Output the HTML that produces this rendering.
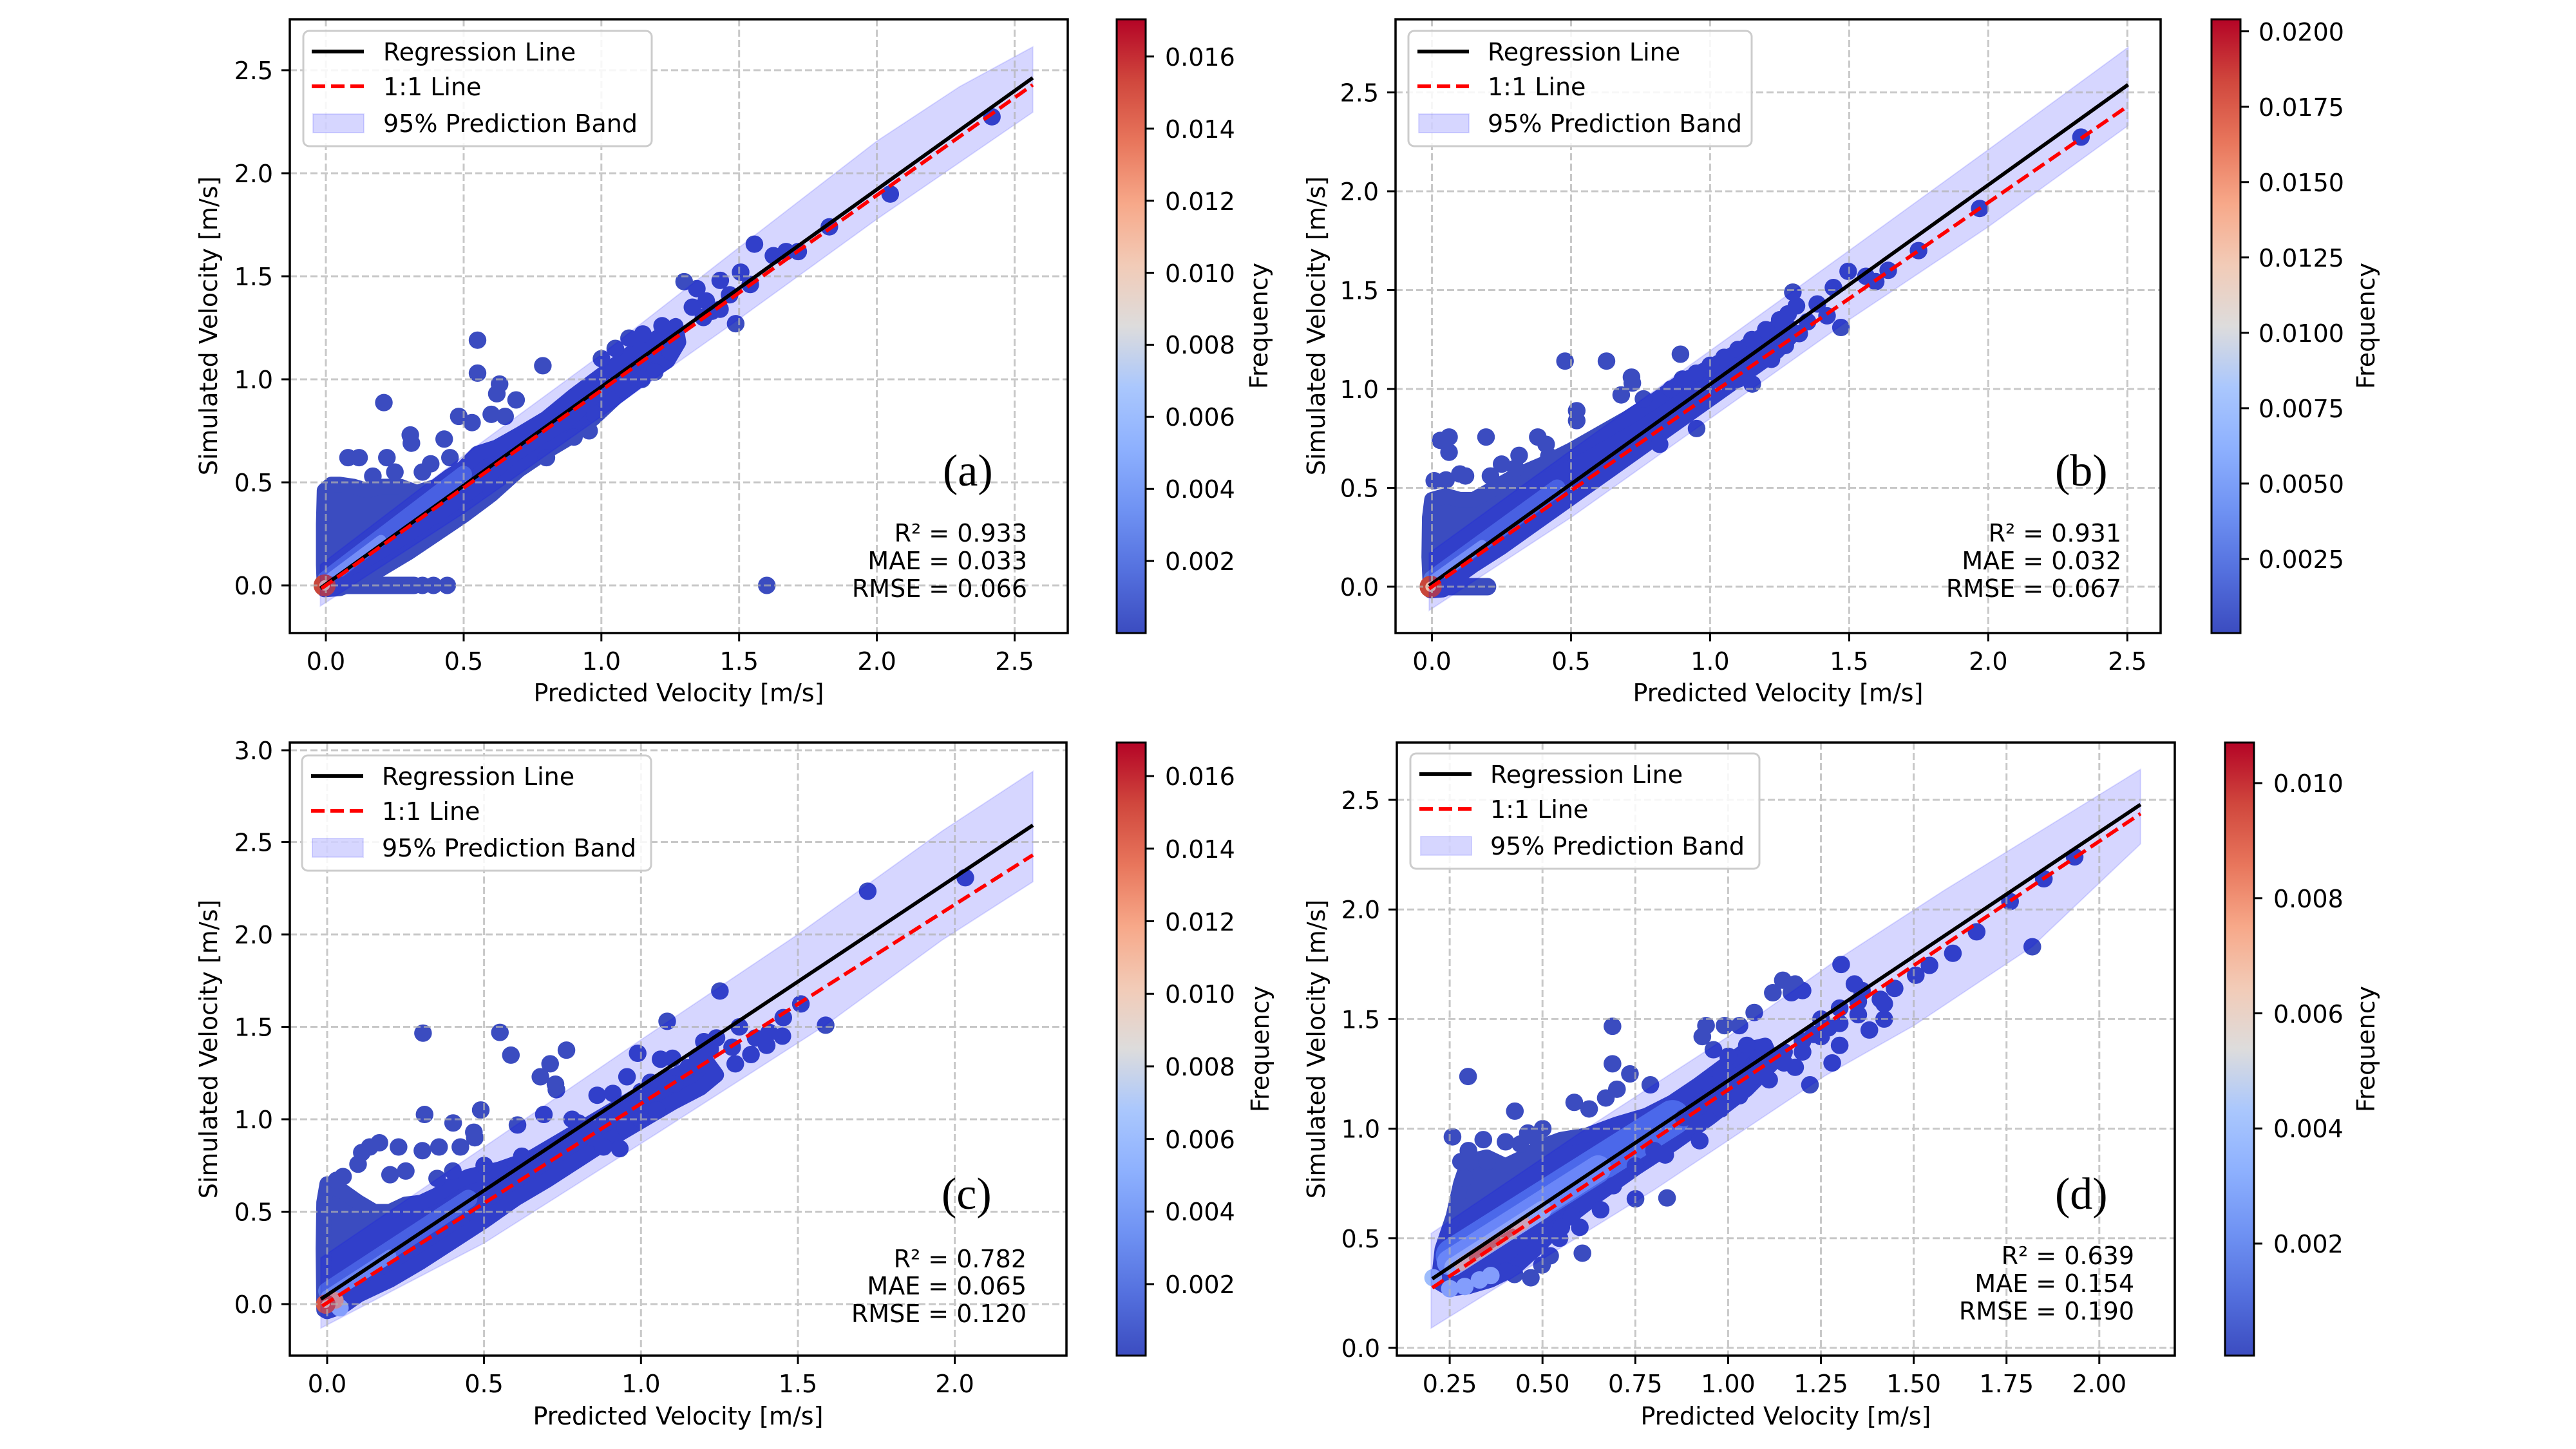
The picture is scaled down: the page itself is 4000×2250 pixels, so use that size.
<!DOCTYPE html>
<html><head><meta charset="utf-8">
<style>
html,body{margin:0;padding:0;background:#fff;}
svg{display:block;}
text{font-family:"DejaVu Sans","Liberation Sans",sans-serif;font-size:38px;fill:#000;}
.lab{font-family:"Liberation Serif",serif;font-size:70px;}
.grid{fill:none;stroke:#b0b0b0;stroke-opacity:.7;stroke-width:3;stroke-dasharray:11 5;}
.frame{fill:none;stroke:#000;stroke-width:3.5;}
.tk{stroke:#000;stroke-width:3;}
.reg{stroke:#000;stroke-width:5.7;fill:none;}
.one{stroke:#ff0000;stroke-width:5.7;stroke-dasharray:21 9;fill:none;}
.leg{fill:#fff;fill-opacity:.85;stroke:#cccccc;stroke-width:3;}
</style></head><body>
<svg width="4000" height="2250" viewBox="0 0 4000 2250" xmlns="http://www.w3.org/2000/svg">
<defs>
<linearGradient id="cw" x1="0" y1="1" x2="0" y2="0">
<stop offset="0" stop-color="#3b4cc0"/><stop offset=".1" stop-color="#5470de"/><stop offset=".2" stop-color="#6f92f3"/><stop offset=".3" stop-color="#8db0fe"/><stop offset=".4" stop-color="#aac7fd"/><stop offset=".5" stop-color="#dddcdc"/><stop offset=".6" stop-color="#f2cbb7"/><stop offset=".7" stop-color="#f7a889"/><stop offset=".8" stop-color="#e8765c"/><stop offset=".9" stop-color="#d0473d"/><stop offset="1" stop-color="#b40426"/>
</linearGradient>
<clipPath id="ca"><rect x="450" y="30" width="1208" height="953"/></clipPath>
<clipPath id="cb"><rect x="2167" y="30" width="1188" height="953"/></clipPath>
<clipPath id="cc"><rect x="450" y="1153" width="1206" height="952"/></clipPath>
<clipPath id="cd"><rect x="2169" y="1153" width="1208" height="952"/></clipPath>
</defs>
<rect width="4000" height="2250" fill="#fff"/>

<!-- ================= PANEL A ================= -->
<g clip-path="url(#ca)">
<g transform="matrix(427.8 0 0 -320 506 909)">
<path vector-effect="non-scaling-stroke" fill="#3b4cc0" stroke="#3b4cc0" stroke-width="24" stroke-linejoin="round" d="M-.005 -.02L-.008 .1L-.008 .3L-.005 .46L.02 .49L.05 .49L.1 .48L.15 .46L.2 .48L.27 .48L.33 .45L.4 .48L.45 .53L.5 .57L.55 .64L.62 .67L.7 .73L.8 .81L.9 .92L1 1.02L1.1 1.12L1.2 1.2L1.27 1.26L1.28 1.18L1.24 1.09L1.15 1.01L1.05 .91L.97 .81L.9 .73L.8 .65L.7 .56L.6 .44L.5 .34L.4 .25L.3 .16L.2 .08L.15 .04L.1 .01L.05 -.015Z"/>
<path vector-effect="non-scaling-stroke" fill="none" stroke="#5a78e0" stroke-opacity=".9" stroke-width="26" stroke-linecap="round" d="M0 .03L.5 .54"/>
<path vector-effect="non-scaling-stroke" fill="none" stroke="#8aa9f6" stroke-width="16" stroke-linecap="round" d="M0 .02L.2 .22"/>
<path vector-effect="non-scaling-stroke" fill="none" stroke="#3b4cc0" stroke-width="27" stroke-linecap="round" d="M0 0L.32 0M.55 1.19h.001M.55 1.03h.001M.787 1.066h.001M.63 .977h.001M.62 .93h.001M.69 .9h.001M.21 .887h.001M.08 .62h.001M.12 .62h.001M.221 .62h.001M.306 .73h.001M.31 .69h.001M.482 .82h.001M.429 .71h.001M.6 .83h.001M.65 .82h.001M.53 .79h.001M.38 .59h.001M.955 .75h.001M.976 .83h.001M.6 .46h.001M.45 .62h.001M.35 .55h.001M.25 .55h.001M.17 .53h.001M1.3 1.474h.001M1.346 1.44h.001M1.555 1.656h.001M1.431 1.48h.001M1.505 1.52h.001M1.54 1.46h.001M1.465 1.41h.001M1.487 1.27h.001M1.4 1.33h.001M1.37 1.3h.001M1.43 1.34h.001M1.25 1.134h.001M1.193 1.035h.001M1.147 1h.001M1.22 1.26h.001M1.1 1.2h.001M1.05 1.15h.001M1 1.1h.001M1.15 1.22h.001M1.33 1.35h.001M1.38 1.38h.001M1.624 1.6h.001M1.67 1.62h.001M1.714 1.62h.001M1.827 1.74h.001M2.048 1.899h.001M2.417 2.274h.001M1.6 0h.001M.35 0h.001M.39 0h.001M.44 0h.001M1.08 .95h.001M.9 .72h.001M.8 .62h.001"/>
<path vector-effect="non-scaling-stroke" fill="none" stroke="#c8463a" stroke-width="34" stroke-linecap="round" d="M-.005 0h.001"/>
<path vector-effect="non-scaling-stroke" fill="none" stroke="#f3c1a9" stroke-width="16" stroke-linecap="round" d="M-.005 0h.001"/>
<path vector-effect="non-scaling-stroke" fill="#0000ff" fill-opacity=".16" stroke="#0000ff" stroke-opacity=".12" stroke-width="2" d="M-.02 .1L.5 .63L1 1.12L1.5 1.64L2 2.156L2.3 2.42L2.566 2.613L2.566 2.296L2 1.777L1.5 1.293L1 .82L.5 .35L-.02 -.1Z"/>
</g>
<path class="grid" d="M506 30V983M720 30V983M933.8 30V983M1147.7 30V983M1361.6 30V983M1575.5 30V983M450 909H1658M450 749H1658M450 589H1658M450 429H1658M450 269H1658M450 109H1658"/>
<path class="reg" d="M497.4 913.5L1603.7 120.8"/>
<path class="one" d="M499.2 913.8L1603.7 131.7"/>
</g>
<rect class="frame" x="450" y="30" width="1208" height="953"/>
<path class="tk" d="M506 983v13M720 983v13M933.8 983v13M1147.7 983v13M1361.6 983v13M1575.5 983v13M450 909h-13M450 749h-13M450 589h-13M450 429h-13M450 269h-13M450 109h-13"/>
<g text-anchor="middle"><text x="506" y="1040">0.0</text><text x="720" y="1040">0.5</text><text x="933.8" y="1040">1.0</text><text x="1147.7" y="1040">1.5</text><text x="1361.6" y="1040">2.0</text><text x="1575.5" y="1040">2.5</text></g>
<g text-anchor="end"><text x="424" y="923">0.0</text><text x="424" y="763">0.5</text><text x="424" y="603">1.0</text><text x="424" y="443">1.5</text><text x="424" y="283">2.0</text><text x="424" y="123">2.5</text></g>
<text x="1054" y="1089" text-anchor="middle">Predicted Velocity [m/s]</text>
<text transform="translate(337,506) rotate(-90)" text-anchor="middle">Simulated Velocity [m/s]</text>
<rect class="leg" x="471" y="48" width="541" height="179" rx="9"/>
<path class="reg" d="M484 80H565"/>
<path class="one" d="M484 134H565"/>
<rect x="486" y="177" width="79" height="29" fill="#0000ff" fill-opacity=".16" stroke="#0000ff" stroke-opacity=".12" stroke-width="2"/>
<text x="595" y="94">Regression Line</text><text x="595" y="148">1:1 Line</text><text x="595" y="205">95% Prediction Band</text>
<g text-anchor="end"><text x="1595" y="841">R² = 0.933</text><text x="1595" y="884">MAE = 0.033</text><text x="1595" y="927">RMSE = 0.066</text></g>
<text class="lab" x="1464" y="754">(a)</text>
<rect x="1734" y="30" width="45" height="953" fill="url(#cw)" stroke="#000" stroke-width="3"/>
<path class="tk" d="M1779 87.8h13M1779 199.7h13M1779 311.6h13M1779 423.5h13M1779 535.4h13M1779 647.3h13M1779 759.2h13M1779 871.1h13"/>
<g><text x="1809" y="102">0.016</text><text x="1809" y="214">0.014</text><text x="1809" y="326">0.012</text><text x="1809" y="438">0.010</text><text x="1809" y="549">0.008</text><text x="1809" y="661">0.006</text><text x="1809" y="773">0.004</text><text x="1809" y="885">0.002</text></g>
<text transform="translate(1968,506) rotate(-90)" text-anchor="middle">Frequency</text>

<!-- ================= PANEL B ================= -->
<g clip-path="url(#cb)">
<g transform="matrix(431.9 0 0 -307 2223.5 911)">
<path vector-effect="non-scaling-stroke" fill="#3b4cc0" stroke="#3b4cc0" stroke-width="24" stroke-linejoin="round" d="M-.005 -.02L-.01 .15L-.008 .35L.0 .44L.05 .46L.1 .44L.15 .44L.2 .48L.3 .56L.4 .62L.5 .69L.6 .77L.7 .85L.8 .94L.9 1.04L1 1.11L1.1 1.19L1.2 1.28L1.27 1.34L1.3 1.28L1.24 1.19L1.15 1.1L1.05 1L.95 .9L.85 .8L.75 .7L.65 .6L.55 .5L.45 .4L.35 .3L.25 .2L.15 .11L.08 .04L.04 -.015Z"/>
<path vector-effect="non-scaling-stroke" fill="none" stroke="#5a78e0" stroke-opacity=".9" stroke-width="26" stroke-linecap="round" d="M0 .04L.45 .5"/>
<path vector-effect="non-scaling-stroke" fill="none" stroke="#8aa9f6" stroke-width="16" stroke-linecap="round" d="M0 .03L.18 .21"/>
<path vector-effect="non-scaling-stroke" fill="none" stroke="#3b4cc0" stroke-width="27" stroke-linecap="round" d="M0 0L.2 0M.478 1.141h.001M.627 1.141h.001M.717 1.06h.001M.72 1.03h.001M.893 1.176h.001M.68 .97h.001M.52 .89h.001M.52 .84h.001M.951 .8h.001M.061 .757h.001M.03 .74h.001M.194 .757h.001M.061 .68h.001M.313 .664h.001M.38 .757h.001M.41 .72h.001M.008 .536h.001M.05 .54h.001M.1 .57h.001M.12 .56h.001M.21 .56h.001M.818 .72h.001M.76 .95h.001M1.297 1.49h.001M1.31 1.42h.001M1.385 1.43h.001M1.443 1.513h.001M1.496 1.595h.001M1.56 1.57h.001M1.595 1.543h.001M1.64 1.6h.001M1.749 1.7h.001M1.969 1.913h.001M2.333 2.274h.001M1.47 1.311h.001M1.42 1.37h.001M1.151 1.025h.001M1.27 1.22h.001M.86 1h.001M.9 1.05h.001M.95 1.08h.001M1 1.12h.001M1.05 1.16h.001M1.1 1.2h.001M1.15 1.25h.001M1.2 1.3h.001M1.25 1.35h.001M1.28 1.38h.001M1.22 1.15h.001M1.2 1.22h.001M1.1 1.05h.001M1.32 1.28h.001M1.35 1.34h.001M.3 .6h.001M.42 .66h.001M.25 .62h.001"/>
<path vector-effect="non-scaling-stroke" fill="none" stroke="#c8463a" stroke-width="34" stroke-linecap="round" d="M-.005 0h.001"/>
<path vector-effect="non-scaling-stroke" fill="none" stroke="#f3c1a9" stroke-width="16" stroke-linecap="round" d="M-.005 0h.001"/>
<path vector-effect="non-scaling-stroke" fill="#0000ff" fill-opacity=".16" stroke="#0000ff" stroke-opacity=".12" stroke-width="2" d="M-.01 .17L.5 .69L1 1.193L1.5 1.7L2 2.21L2.503 2.728L2.503 2.332L2 1.82L1.5 1.35L1 .85L.5 .35L-.01 -.12Z"/>
</g>
<path class="grid" d="M2223.5 30V983M2439.5 30V983M2655.4 30V983M2871.4 30V983M3087.3 30V983M3303.3 30V983M2167 911H3355M2167 757.5H3355M2167 604H3355M2167 450.5H3355M2167 297H3355M2167 143.5H3355"/>
<path class="reg" d="M2219.2 909.5L3304.5 131.5"/>
<path class="one" d="M2219.2 914.1L3304.5 164.4"/>
</g>
<rect class="frame" x="2167" y="30" width="1188" height="953"/>
<path class="tk" d="M2223.5 983v13M2439.5 983v13M2655.4 983v13M2871.4 983v13M3087.3 983v13M3303.3 983v13M2167 911h-13M2167 757.5h-13M2167 604h-13M2167 450.5h-13M2167 297h-13M2167 143.5h-13"/>
<g text-anchor="middle"><text x="2223.5" y="1040">0.0</text><text x="2439.5" y="1040">0.5</text><text x="2655.4" y="1040">1.0</text><text x="2871.4" y="1040">1.5</text><text x="3087.3" y="1040">2.0</text><text x="3303.3" y="1040">2.5</text></g>
<g text-anchor="end"><text x="2141" y="925">0.0</text><text x="2141" y="771.5">0.5</text><text x="2141" y="618">1.0</text><text x="2141" y="464.5">1.5</text><text x="2141" y="311">2.0</text><text x="2141" y="157.5">2.5</text></g>
<text x="2761" y="1089" text-anchor="middle">Predicted Velocity [m/s]</text>
<text transform="translate(2057,506) rotate(-90)" text-anchor="middle">Simulated Velocity [m/s]</text>
<rect class="leg" x="2187" y="48" width="533" height="179" rx="9"/>
<path class="reg" d="M2201 80H2281"/>
<path class="one" d="M2201 134H2281"/>
<rect x="2203" y="177" width="78" height="29" fill="#0000ff" fill-opacity=".16" stroke="#0000ff" stroke-opacity=".12" stroke-width="2"/>
<text x="2310" y="94">Regression Line</text><text x="2310" y="148">1:1 Line</text><text x="2310" y="205">95% Prediction Band</text>
<g text-anchor="end"><text x="3294" y="841">R² = 0.931</text><text x="3294" y="884">MAE = 0.032</text><text x="3294" y="927">RMSE = 0.067</text></g>
<text class="lab" x="3191" y="754">(b)</text>
<rect x="3434" y="30" width="45" height="953" fill="url(#cw)" stroke="#000" stroke-width="3"/>
<path class="tk" d="M3479 48.6h13M3479 165.7h13M3479 282.7h13M3479 399.8h13M3479 516.8h13M3479 633.9h13M3479 750.9h13M3479 868h13"/>
<g><text x="3507" y="63">0.0200</text><text x="3507" y="180">0.0175</text><text x="3507" y="297">0.0150</text><text x="3507" y="414">0.0125</text><text x="3507" y="531">0.0100</text><text x="3507" y="648">0.0075</text><text x="3507" y="765">0.0050</text><text x="3507" y="882">0.0025</text></g>
<text transform="translate(3687,506) rotate(-90)" text-anchor="middle">Frequency</text>

<!-- ================= PANEL C ================= -->
<g clip-path="url(#cc)">
<g transform="matrix(487.3 0 0 -287 508 2025)">
<path vector-effect="non-scaling-stroke" fill="#3b4cc0" stroke="#3b4cc0" stroke-width="24" stroke-linejoin="round" d="M-.01 -.03L-.012 .3L-.01 .55L0 .65L.05 .61L.1 .55L.15 .5L.2 .5L.25 .54L.3 .55L.35 .59L.4 .65L.45 .69L.55 .73L.65 .79L.75 .89L.85 .99L.95 1.09L1.05 1.19L1.15 1.27L1.21 1.31L1.24 1.24L1.19 1.17L1.1 1.09L1 .99L.9 .89L.8 .78L.7 .67L.6 .57L.5 .45L.4 .34L.3 .23L.2 .13L.1 .05L.05 -.01L0 -.04Z"/>
<path vector-effect="non-scaling-stroke" fill="none" stroke="#5a78e0" stroke-opacity=".9" stroke-width="28" stroke-linecap="round" d="M0 .07L.45 .57"/>
<path vector-effect="non-scaling-stroke" fill="none" stroke="#7e9ef4" stroke-width="20" stroke-linecap="round" d="M0 .04L.2 .26"/>
<path vector-effect="non-scaling-stroke" fill="none" stroke="#3b4cc0" stroke-width="27" stroke-linecap="round" d="M.305 1.466h.001M.55 1.47h.001M.585 1.347h.001M.762 1.374h.001M.71 1.3h.001M.679 1.23h.001M.727 1.19h.001M.73 1.16h.001M1.083 1.53h.001M1.251 1.694h.001M1.722 2.234h.001M2.033 2.307h.001M1.588 1.509h.001M1.509 1.624h.001M1.453 1.55h.001M1.408 1.47h.001M1.365 1.44h.001M1.313 1.5h.001M1.29 1.39h.001M1.2 1.42h.001M1.18 1.34h.001M1.24 1.44h.001M1.22 1.38h.001M.989 1.357h.001M1.062 1.325h.001M1.107 1.19h.001M.955 1.23h.001M.86 1.13h.001M.91 1.14h.001M.932 .841h.001M.31 1.026h.001M.489 1.05h.001M.401 .98h.001M.467 .93h.001M.47 .9h.001M.606 .969h.001M.69 1.026h.001M.166 .873h.001M.135 .85h.001M.11 .82h.001M.098 .757h.001M.227 .85h.001M.356 .85h.001M.303 .83h.001M.424 .85h.001M.8 .98h.001M.78 1h.001M1.03 1.2h.001M1 1.15h.001M1.15 1.28h.001M1.1 1.33h.001M1.45 1.45h.001M1.4 1.4h.001M.6 .75h.001M.62 .8h.001M.5 .75h.001M.4 .72h.001M.95 .95h.001M1 1h.001M1.05 1.05h.001M.88 .85h.001M.85 .9h.001M.25 .72h.001M.2 .7h.001M.35 .68h.001M.03 .67h.001M.05 .69h.001M1.3 1.3h.001M1.35 1.35h.001"/>
<path vector-effect="non-scaling-stroke" fill="none" stroke="#9ebdfc" stroke-width="27" stroke-linecap="round" d="M.04 -.02h.001"/>
<path vector-effect="non-scaling-stroke" fill="none" stroke="#f0a68a" stroke-width="26" stroke-linecap="round" d="M.025 .02h.001"/>
<path vector-effect="non-scaling-stroke" fill="none" stroke="#d75445" stroke-width="30" stroke-linecap="round" d="M-.005 0h.001"/>
<path vector-effect="non-scaling-stroke" fill="none" stroke="#f3c1a9" stroke-width="12" stroke-linecap="round" d="M-.005 0h.001"/>
<path vector-effect="non-scaling-stroke" fill="#0000ff" fill-opacity=".16" stroke="#0000ff" stroke-opacity=".12" stroke-width="2" d="M-.02 .25L.5 .85L1 1.43L1.5 2L1.96 2.56L2.249 2.882L2.249 2.285L1.96 1.97L1.588 1.509L1.044 .916L.5 .33L-.02 -.13Z"/>
</g>
<path class="grid" d="M508 1153V2105M751.6 1153V2105M995.3 1153V2105M1239 1153V2105M1482.6 1153V2105M450 2025H1656M450 1881.5H1656M450 1738H1656M450 1594.5H1656M450 1451H1656M450 1307.5H1656M450 1165H1656"/>
<path class="reg" d="M498.3 2017.3L1603.9 1281.4"/>
<path class="one" d="M500.2 2027.9L1603.9 1327.6"/>
</g>
<rect class="frame" x="450" y="1153" width="1206" height="952"/>
<path class="tk" d="M508 2105v13M751.6 2105v13M995.3 2105v13M1239 2105v13M1482.6 2105v13M450 2025h-13M450 1881.5h-13M450 1738h-13M450 1594.5h-13M450 1451h-13M450 1307.5h-13M450 1165h-13"/>
<g text-anchor="middle"><text x="508" y="2162">0.0</text><text x="751.6" y="2162">0.5</text><text x="995.3" y="2162">1.0</text><text x="1239" y="2162">1.5</text><text x="1482.6" y="2162">2.0</text></g>
<g text-anchor="end"><text x="424" y="2039">0.0</text><text x="424" y="1895.5">0.5</text><text x="424" y="1752">1.0</text><text x="424" y="1608.5">1.5</text><text x="424" y="1465">2.0</text><text x="424" y="1321.5">2.5</text><text x="424" y="1179">3.0</text></g>
<text x="1053" y="2212" text-anchor="middle">Predicted Velocity [m/s]</text>
<text transform="translate(337,1629) rotate(-90)" text-anchor="middle">Simulated Velocity [m/s]</text>
<rect class="leg" x="469" y="1173" width="542" height="179" rx="9"/>
<path class="reg" d="M483 1205H564"/>
<path class="one" d="M483 1259H564"/>
<rect x="485" y="1302" width="79" height="29" fill="#0000ff" fill-opacity=".16" stroke="#0000ff" stroke-opacity=".12" stroke-width="2"/>
<text x="593" y="1219">Regression Line</text><text x="593" y="1273">1:1 Line</text><text x="593" y="1330">95% Prediction Band</text>
<g text-anchor="end"><text x="1594" y="1968">R² = 0.782</text><text x="1594" y="2010">MAE = 0.065</text><text x="1594" y="2053">RMSE = 0.120</text></g>
<text class="lab" x="1462" y="1877">(c)</text>
<rect x="1734" y="1153" width="45" height="952" fill="url(#cw)" stroke="#000" stroke-width="3"/>
<path class="tk" d="M1779 1205.1h13M1779 1317.8h13M1779 1430.5h13M1779 1543.2h13M1779 1655.9h13M1779 1768.6h13M1779 1881.3h13M1779 1994h13"/>
<g><text x="1809" y="1219">0.016</text><text x="1809" y="1332">0.014</text><text x="1809" y="1445">0.012</text><text x="1809" y="1557">0.010</text><text x="1809" y="1670">0.008</text><text x="1809" y="1783">0.006</text><text x="1809" y="1895">0.004</text><text x="1809" y="2008">0.002</text></g>
<text transform="translate(1970,1629) rotate(-90)" text-anchor="middle">Frequency</text>

<!-- ================= PANEL D ================= -->
<g clip-path="url(#cd)">
<g transform="matrix(576.4 0 0 -340.4 2107 2093)">
<path vector-effect="non-scaling-stroke" fill="#3b4cc0" stroke="#3b4cc0" stroke-width="24" stroke-linejoin="round" d="M.22 .3L.23 .45L.26 .6L.28 .75L.3 .85L.35 .87L.4 .83L.45 .87L.5 .92L.55 .95L.62 .97L.7 1.02L.78 1.06L.85 1.12L.92 1.2L1 1.3L1.05 1.36L1.1 1.38L1.12 1.3L1.05 1.18L.95 1.05L.85 .93L.75 .82L.65 .7L.55 .57L.48 .45L.42 .36L.36 .31L.3 .28L.25 .27Z"/>
<path vector-effect="non-scaling-stroke" fill="none" stroke="#5a7de6" stroke-width="55" stroke-linecap="round" d="M.26 .42L.85 1.05"/>
<path vector-effect="non-scaling-stroke" fill="none" stroke="#7fa0f7" stroke-width="40" stroke-linecap="round" d="M.25 .39L.65 .82"/>
<path vector-effect="non-scaling-stroke" fill="none" stroke="#a9c4fc" stroke-width="28" stroke-linecap="round" d="M.26 .37L.5 .63"/>
<path vector-effect="non-scaling-stroke" fill="none" stroke="#f0c4ae" stroke-width="20" stroke-linecap="round" d="M.28 .38L.45 .57"/>
<path vector-effect="non-scaling-stroke" fill="none" stroke="#e0735a" stroke-width="10" stroke-linecap="round" d="M.31 .41L.42 .53"/>
<path vector-effect="non-scaling-stroke" fill="none" stroke="#3b4cc0" stroke-width="27" stroke-linecap="round" d="M.299 1.238h.001M.688 1.467h.001M.688 1.296h.001M.735 1.25h.001M.79 1.2h.001M.425 1.08h.001M.257 .963h.001M.835 .684h.001M.607 .432h.001M1.304 1.749h.001M1.819 1.83h.001M1.933 2.24h.001M1.85 2.14h.001M1.759 2.036h.001M1.669 1.898h.001M1.605 1.8h.001M1.542 1.745h.001M1.505 1.7h.001M1.448 1.64h.001M1.41 1.59h.001M1.34 1.66h.001M1.36 1.63h.001M1.147 1.677h.001M1.18 1.66h.001M1.2 1.63h.001M1.12 1.62h.001M1.17 1.62h.001M1.27 1.46h.001M1.23 1.43h.001M1.2 1.4h.001M1.07 1.53h.001M1.03 1.47h.001M.94 1.47h.001M.99 1.47h.001M1.05 1.38h.001M.93 1.42h.001M.96 1.36h.001M1 1.33h.001M1.11 1.223h.001M1.03 1.15h.001M.923 .945h.001M.83 .88h.001M.8 .9h.001M.656 .63h.001M.578 .6h.001M.55 .55h.001M.545 .5h.001M.498 .378h.001M.468 .32h.001M.424 .335h.001M.4 .35h.001M.289 .774h.001M.585 1.12h.001M.625 1.09h.001M.67 1.14h.001M.7 1.18h.001M.34 .95h.001M.4 .94h.001M.44 .93h.001M.48 .96h.001M.5 1h.001M.46 .98h.001M.3 .9h.001M.28 .85h.001M.35 .85h.001M.95 1.2h.001M.98 1.25h.001M1.08 1.32h.001M1.15 1.35h.001M1.25 1.5h.001M1.3 1.55h.001M1.35 1.58h.001M1.42 1.57h.001M.88 1.05h.001M.92 1.1h.001M.52 .42h.001M.6 .55h.001M.75 .68h.001M1.15 1.3h.001M1.2 1.35h.001M1.25 1.42h.001M1.3 1.48h.001M1.35 1.52h.001M1.1 1.25h.001M1.18 1.28h.001M1.22 1.2h.001M1.28 1.3h.001M1.3 1.38h.001M1.38 1.45h.001M1.42 1.5h.001M1.047 1.188h.001M1.07 1.24h.001M.98 1.09h.001M.75 .83h.001M.69 .74h.001"/>
<path vector-effect="non-scaling-stroke" fill="none" stroke="#9dbcfc" stroke-width="27" stroke-linecap="round" d="M.205 .32h.001M.25 .27h.001M.29 .28h.001M.33 .31h.001M.36 .33h.001"/>
<path vector-effect="non-scaling-stroke" fill="#0000ff" fill-opacity=".16" stroke="#0000ff" stroke-opacity=".12" stroke-width="2" d="M.2 .522L.6 .98L1 1.42L1.287 1.763L1.582 2.087L2.111 2.639L2.111 2.299L1.819 1.83L1.5 1.47L1.26 1.24L.8 .72L.2 .09Z"/>
</g>
<path class="grid" d="M2251.1 1153V2105M2395.2 1153V2105M2539.3 1153V2105M2683.4 1153V2105M2827.5 1153V2105M2971.6 1153V2105M3115.7 1153V2105M3259.8 1153V2105M2169 2093H3377M2169 1922.8H3377M2169 1752.6H3377M2169 1582.4H3377M2169 1412.2H3377M2169 1242H3377"/>
<path class="reg" d="M2224 1985.8L3323.8 1249.2"/>
<path class="one" d="M2224 1999.7L3323.8 1263.4"/>
</g>
<rect class="frame" x="2169" y="1153" width="1208" height="952"/>
<path class="tk" d="M2251.1 2105v13M2395.2 2105v13M2539.3 2105v13M2683.4 2105v13M2827.5 2105v13M2971.6 2105v13M3115.7 2105v13M3259.8 2105v13M2169 2093h-13M2169 1922.8h-13M2169 1752.6h-13M2169 1582.4h-13M2169 1412.2h-13M2169 1242h-13"/>
<g text-anchor="middle"><text x="2251.1" y="2162">0.25</text><text x="2395.2" y="2162">0.50</text><text x="2539.3" y="2162">0.75</text><text x="2683.4" y="2162">1.00</text><text x="2827.5" y="2162">1.25</text><text x="2971.6" y="2162">1.50</text><text x="3115.7" y="2162">1.75</text><text x="3259.8" y="2162">2.00</text></g>
<g text-anchor="end"><text x="2143" y="2107">0.0</text><text x="2143" y="1936.8">0.5</text><text x="2143" y="1766.6">1.0</text><text x="2143" y="1596.4">1.5</text><text x="2143" y="1426.2">2.0</text><text x="2143" y="1256">2.5</text></g>
<text x="2773" y="2212" text-anchor="middle">Predicted Velocity [m/s]</text>
<text transform="translate(2057,1629) rotate(-90)" text-anchor="middle">Simulated Velocity [m/s]</text>
<rect class="leg" x="2190" y="1170" width="542" height="179" rx="9"/>
<path class="reg" d="M2204 1202H2285"/>
<path class="one" d="M2204 1256H2285"/>
<rect x="2206" y="1299" width="79" height="29" fill="#0000ff" fill-opacity=".16" stroke="#0000ff" stroke-opacity=".12" stroke-width="2"/>
<text x="2314" y="1216">Regression Line</text><text x="2314" y="1270">1:1 Line</text><text x="2314" y="1327">95% Prediction Band</text>
<g text-anchor="end"><text x="3314" y="1963">R² = 0.639</text><text x="3314" y="2006">MAE = 0.154</text><text x="3314" y="2049">RMSE = 0.190</text></g>
<text class="lab" x="3191" y="1877">(d)</text>
<rect x="3455" y="1153" width="45" height="952" fill="url(#cw)" stroke="#000" stroke-width="3"/>
<path class="tk" d="M3500 1216h13M3500 1394.8h13M3500 1573.5h13M3500 1752.3h13M3500 1931h13"/>
<g><text x="3530" y="1230">0.010</text><text x="3530" y="1409">0.008</text><text x="3530" y="1588">0.006</text><text x="3530" y="1766">0.004</text><text x="3530" y="1945">0.002</text></g>
<text transform="translate(3687,1629) rotate(-90)" text-anchor="middle">Frequency</text>
</svg>
</body></html>
